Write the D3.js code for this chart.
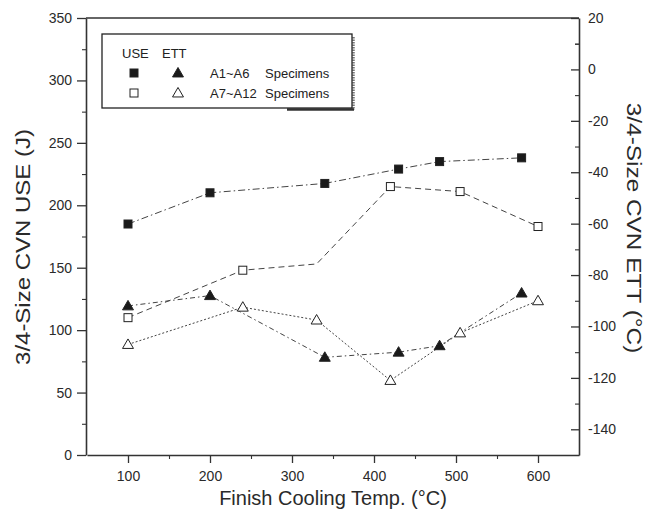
<!DOCTYPE html>
<html>
<head>
<meta charset="utf-8">
<script src="https://cdn.jsdelivr.net/npm/d3@7"></script>
<style>
  body { margin: 0; background: #fff; }
  svg { display: block; font-family: "Liberation Sans", Arial, sans-serif; }
  .axis text { font-size: 14px; fill: #2a2a2a; }
  .axis path, .axis line { stroke: #333; }
  .title { font-size: 20px; fill: #2a2a2a; }
  .legend text { font-size: 13px; fill: #222; }
</style>
</head>
<body>
<svg id="chart"></svg>
<script>
// finish cooling temperatures (C)
const tempA1 = [100, 200, 340, 430, 480, 580]
const tempA7 = [100, 240, 330, 420, 505, 600]

// upper shelf energy, J (left axis)
const useA1 = [185, 210, 217.5, 229, 235, 238]
const useA7 = [110, 148, 153, 215, 211, 183]
const useA7Marker = [true, true, false, true, true, true]  // marker faded out in the scan

// energy transition temperature, C (right axis)
const ettA1 = [-92, -88, -112, -110, -107.5, -87]
const ettA7 = [-107, -92.5, -97.5, -121, -102.5, -90]

const xTicks = [100, 200, 300, 400, 500, 600]
const useTicks = [0, 50, 100, 150, 200, 250, 300, 350]
const ettTicks = [20, 0, -20, -40, -60, -80, -100, -120, -140]

const chart = {
  width: 657,
  height: 523,
  left: 87,
  right: 579,
  top: 18,
  bottom: 455
}

const svg = d3.select('#chart')
  .attr('width', chart.width)
  .attr('height', chart.height)

const x = d3.scaleLinear().domain([50, 650]).range([chart.left, chart.right])
const yUse = d3.scaleLinear().domain([0, 350]).range([chart.bottom, chart.top])
const yEtt = d3.scaleLinear().domain([-150, 20]).range([chart.bottom, chart.top])

// minor ticks sit halfway between labelled ones
const between = ticks => d3.pairs(ticks).map(([a, b]) => (a + b) / 2)
// plain hyphen for negatives, like the original
const plain = d => String(d)

function drawAxis(axis, minor, transform) {
  const g = svg.append('g').attr('class', 'axis').attr('transform', transform)
  g.call(axis)
  g.select('.domain').attr('stroke-width', 1.6)
  g.selectAll('.tick line').attr('stroke-width', 1.3)
  const m = svg.append('g').attr('class', 'axis').attr('transform', transform)
  m.call(minor)
  m.select('.domain').remove()
  m.selectAll('.tick text').remove()
  m.selectAll('.tick line').attr('stroke-width', 1.1)
  return g
}

drawAxis(
  d3.axisBottom(x).tickValues(xTicks).tickFormat(plain).tickSize(8).tickSizeOuter(0).tickPadding(8),
  d3.axisBottom(x).tickValues([150, 250, 350, 450, 550]).tickSize(4),
  `translate(0, ${chart.bottom})`
)

drawAxis(
  d3.axisLeft(yUse).tickValues(useTicks).tickFormat(plain).tickSize(9).tickSizeOuter(0).tickPadding(5),
  d3.axisLeft(yUse).tickValues(between(useTicks)).tickSize(4),
  `translate(${chart.left - 1}, 0)`
)

drawAxis(
  d3.axisRight(yEtt).tickValues(ettTicks).tickFormat(plain).tickSizeInner(-8).tickSizeOuter(0).tickPadding(9),
  d3.axisRight(yEtt).tickValues([10].concat(between(ettTicks))).tickSizeInner(-4).tickSizeOuter(0),
  `translate(${chart.right}, 0)`
)

// top frame line
svg.append('line')
  .attr('x1', chart.left - 1).attr('x2', chart.right)
  .attr('y1', chart.top).attr('y2', chart.top)
  .attr('stroke', '#333').attr('stroke-width', 1.6)

// axis titles (side ones are stretched along their length in the original)
svg.append('text')
  .attr('class', 'title')
  .attr('x', (chart.left + chart.right) / 2)
  .attr('y', 505)
  .attr('text-anchor', 'middle')
  .text('Finish Cooling Temp. (°C)')

svg.append('text')
  .attr('class', 'title')
  .attr('transform', `translate(30, 247) rotate(-90) scale(1.2, 1)`)
  .attr('text-anchor', 'middle')
  .text('3/4-Size CVN USE (J)')

svg.append('text')
  .attr('class', 'title')
  .attr('transform', `translate(627, 228) rotate(90) scale(1.22, 1)`)
  .attr('text-anchor', 'middle')
  .text('3/4-Size CVN ETT (°C)')

// markers
const triangle = d3.symbol().type(d3.symbolTriangle).size(52)

function marker(g, kind, filled, px, py) {
  if (kind === 'square') {
    g.append('rect')
      .attr('x', px - 4).attr('y', py - 4)
      .attr('width', 8).attr('height', 8)
      .attr('fill', filled ? '#1a1a1a' : '#fff')
      .attr('stroke', '#222').attr('stroke-width', 1)
  } else {
    g.append('path')
      .attr('d', triangle())
      .attr('transform', `translate(${px}, ${py + 0.8})`)
      .attr('fill', filled ? '#1a1a1a' : '#fff')
      .attr('stroke', '#222').attr('stroke-width', 1)
  }
}

const series = [
  {temps: tempA1, values: useA1, y: yUse, kind: 'square', filled: true, dash: '7,3,1.5,3'},
  {temps: tempA7, values: useA7, y: yUse, kind: 'square', filled: false, dash: '6,4', shown: useA7Marker},
  {temps: tempA1, values: ettA1, y: yEtt, kind: 'triangle', filled: true, dash: '5,3,1.5,3'},
  {temps: tempA7, values: ettA7, y: yEtt, kind: 'triangle', filled: false, dash: '2,2'}
]

const plot = svg.append('g')

series.forEach(s => {
  const pts = s.temps.map((t, i) => [t, s.values[i]])
  const line = d3.line().x(d => x(d[0])).y(d => s.y(d[1]))
  plot.append('path')
    .attr('d', line(pts))
    .attr('fill', 'none')
    .attr('stroke', '#444')
    .attr('stroke-width', 1)
    .attr('stroke-dasharray', s.dash)
})

series.forEach(s => {
  s.temps.forEach((t, i) => {
    if (s.shown && !s.shown[i]) return
    marker(plot, s.kind, s.filled, x(t), s.y(s.values[i]))
  })
})

// legend
const legend = svg.append('g').attr('class', 'legend')

legend.append('line')
  .attr('x1', 353.5).attr('x2', 353.5).attr('y1', 37).attr('y2', 110)
  .attr('stroke', '#777').attr('stroke-width', 2.5).attr('stroke-dasharray', '1.5,1')
legend.append('line')
  .attr('x1', 287).attr('x2', 354).attr('y1', 109.5).attr('y2', 109.5)
  .attr('stroke', '#333').attr('stroke-width', 2.5)
legend.append('rect')
  .attr('x', 102).attr('y', 34)
  .attr('width', 250).attr('height', 74)
  .attr('fill', '#fff')
  .attr('stroke', '#222').attr('stroke-width', 1.3)

legend.append('text').attr('x', 122).attr('y', 58).text('USE')
legend.append('text').attr('x', 162).attr('y', 58).text('ETT')

const legendRows = [
  {filled: true, name: 'A1~A6', y: 73},
  {filled: false, name: 'A7~A12', y: 93}
]

legendRows.forEach(r => {
  marker(legend, 'square', r.filled, 134, r.y)
  marker(legend, 'triangle', r.filled, 178, r.y)
  legend.append('text').attr('x', 210).attr('y', r.y + 5).text(r.name)
  legend.append('text').attr('x', 265).attr('y', r.y + 5).text('Specimens')
})
</script>
</body>
</html>
